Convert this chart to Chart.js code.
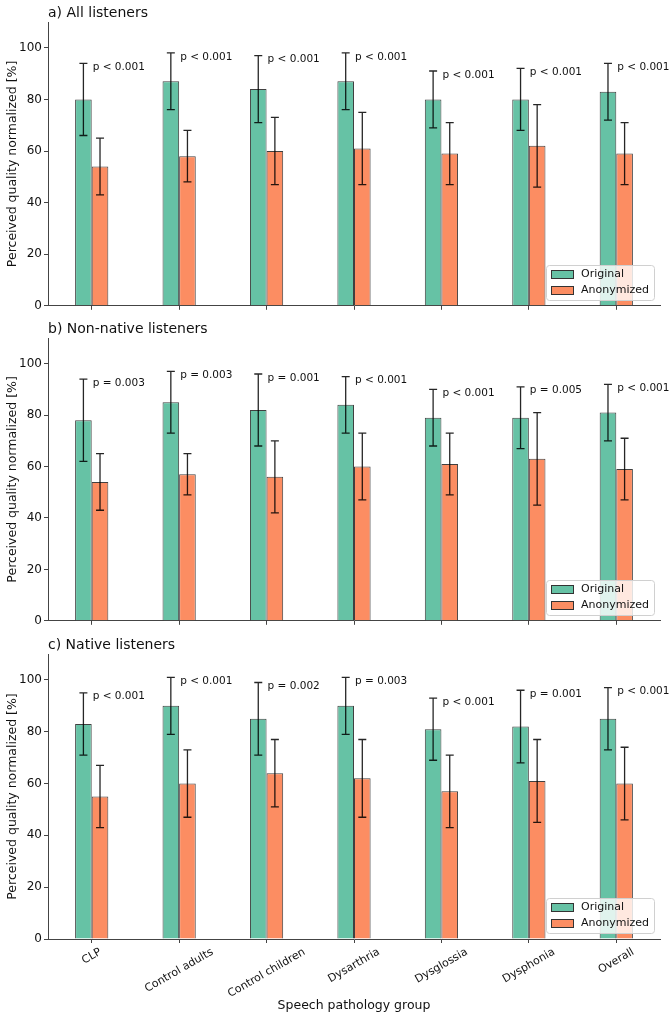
<!DOCTYPE html>
<html>
<head>
<meta charset="utf-8">
<script src="https://cdn.jsdelivr.net/npm/chart.js@4.4.0/dist/chart.umd.min.js"></script>
<style>
  html, body { margin: 0; padding: 0; background: #fff; }
  #wrap { position: relative; width: 672px; height: 1020px; }
  .panel { position: absolute; left: 0; width: 672px; }
</style>
</head>
<body>
<div id="wrap">
  <div class="panel" style="top:0;height:315px"><canvas id="chartA"></canvas></div>
  <div class="panel" style="top:315px;height:315px"><canvas id="chartB"></canvas></div>
  <div class="panel" style="top:630px;height:390px"><canvas id="chartC"></canvas></div>
</div>
<script>
const groups = ['CLP', 'Control adults', 'Control children', 'Dysarthria', 'Dysglossia', 'Dysphonia', 'Overall'];
const yTicks = [0, 20, 40, 60, 80, 100];

// a) all listeners
const allOrig = [80, 87, 84, 87, 80, 80, 83];
const allOrigSd = [14, 11, 13, 11, 11, 12, 11];
const allAnon = [54, 58, 60, 61, 59, 62, 59];
const allAnonSd = [11, 10, 13, 14, 12, 16, 12];
const allP = ['p < 0.001', 'p < 0.001', 'p < 0.001', 'p < 0.001', 'p < 0.001', 'p < 0.001', 'p < 0.001'];

// b) non-native listeners
const nonNativeOrig = [78, 85, 82, 84, 79, 79, 81];
const nonNativeOrigSd = [16, 12, 14, 11, 11, 12, 11];
const nonNativeAnon = [54, 57, 56, 60, 61, 63, 59];
const nonNativeAnonSd = [11, 8, 14, 13, 12, 18, 12];
const nonNativeP = ['p = 0.003', 'p = 0.003', 'p = 0.001', 'p < 0.001', 'p < 0.001', 'p = 0.005', 'p < 0.001'];

// c) native listeners
const nativeOrig = [83, 90, 85, 90, 81, 82, 85];
const nativeOrigSd = [12, 11, 14, 11, 12, 14, 12];
const nativeAnon = [55, 60, 64, 62, 57, 61, 60];
const nativeAnonSd = [12, 13, 13, 15, 14, 16, 14];
const nativeP = ['p < 0.001', 'p < 0.001', 'p = 0.002', 'p = 0.003', 'p < 0.001', 'p = 0.001', 'p < 0.001'];

const FONT = '"DejaVu Sans", sans-serif';
const GREEN = '#66c2a5';
const ORANGE = '#fc8d62';

function makePanel(id, title, orig, origSd, anon, anonSd, pLabels, padTop, xHeight, showXLabels) {
  const errs = [origSd, anonSd];

  const decor = {
    id: 'decor',
    afterDatasetsDraw(chart) {
      const ctx = chart.ctx;
      const xs = chart.scales.x;
      const ys = chart.scales.y;
      const ca = chart.chartArea;
      ctx.save();

      // error bars
      ctx.strokeStyle = 'rgba(0,0,0,0.85)';
      ctx.lineWidth = 1.3;
      chart.data.datasets.forEach((ds, di) => {
        chart.getDatasetMeta(di).data.forEach((bar, i) => {
          const hi = ys.getPixelForValue(ds.data[i] + errs[di][i]);
          const lo = ys.getPixelForValue(ds.data[i] - errs[di][i]);
          ctx.beginPath();
          ctx.moveTo(bar.x, hi); ctx.lineTo(bar.x, lo);
          ctx.moveTo(bar.x - 4, hi); ctx.lineTo(bar.x + 4, hi);
          ctx.moveTo(bar.x - 4, lo); ctx.lineTo(bar.x + 4, lo);
          ctx.stroke();
        });
      });

      // p-values next to the original bars
      ctx.fillStyle = '#111';
      ctx.font = '10.5px ' + FONT;
      ctx.textAlign = 'left';
      ctx.textBaseline = 'middle';
      pLabels.forEach((p, i) => {
        ctx.fillText(p, xs.getPixelForValue(i) + 1, ys.getPixelForValue(orig[i] + origSd[i] - 1.5));
      });

      // legend, lower right inside the axes
      const bw = 108, bh = 35;
      const bx = Math.round(ca.right - 6 - bw), by = Math.round(ca.bottom - 6 - bh);
      ctx.fillStyle = 'rgba(255,255,255,0.8)';
      ctx.strokeStyle = '#d0d0d0';
      ctx.lineWidth = 1;
      ctx.beginPath();
      ctx.roundRect(bx + 0.5, by + 0.5, bw, bh, 3);
      ctx.fill();
      ctx.stroke();
      ctx.font = '11px ' + FONT;
      chart.data.datasets.forEach((ds, di) => {
        const cy = by + 9 + di * 16;
        ctx.fillStyle = ds.backgroundColor;
        ctx.fillRect(bx + 5, cy - 4, 22, 8);
        ctx.strokeStyle = '#333';
        ctx.strokeRect(bx + 5.5, cy - 3.5, 22, 8);
        ctx.fillStyle = '#111';
        ctx.fillText(ds.label, bx + 35, cy + 0.5);
      });

      // panel title
      ctx.font = '14px ' + FONT;
      ctx.textBaseline = 'alphabetic';
      ctx.fillText(title, ca.left, ca.top - 5);

      // y axis title
      ctx.save();
      ctx.translate(12.5, (ca.top + ca.bottom) / 2);
      ctx.rotate(-Math.PI / 2);
      ctx.textAlign = 'center';
      ctx.textBaseline = 'middle';
      ctx.font = '12.5px ' + FONT;
      ctx.fillText('Perceived quality normalized [%]', 0, 0);
      ctx.restore();

      // rotated category labels and x title on the bottom panel
      if (showXLabels) {
        ctx.font = '11px ' + FONT;
        ctx.textAlign = 'center';
        ctx.textBaseline = 'middle';
        const h = 12;
        groups.forEach((g, i) => {
          const w = ctx.measureText(g).width;
          const tx = xs.getPixelForValue(i);
          const ty = ca.bottom + 7 + (w * 0.5 + h * 0.866) / 2;
          ctx.save();
          ctx.translate(tx, ty);
          ctx.rotate(-Math.PI / 6);
          ctx.fillText(g, 0, 0);
          ctx.restore();
        });
        ctx.font = '12.5px ' + FONT;
        ctx.fillText('Speech pathology group', (ca.left + ca.right) / 2, ca.bottom + 67);
      }
      ctx.restore();
    }
  };

  return new Chart(document.getElementById(id).getContext('2d'), {
    type: 'bar',
    data: {
      labels: groups,
      datasets: [{
        label: 'Original',
        data: orig,
        backgroundColor: GREEN,
        borderColor: 'rgba(0,0,0,0.75)',
        borderWidth: 1,
        categoryPercentage: 0.38,
        barPercentage: 1
      }, {
        label: 'Anonymized',
        data: anon,
        backgroundColor: ORANGE,
        borderColor: 'rgba(0,0,0,0.75)',
        borderWidth: 1,
        categoryPercentage: 0.38,
        barPercentage: 1
      }]
    },
    options: {
      responsive: true,
      maintainAspectRatio: false,
      animation: false,
      layout: { padding: { top: padTop, right: 12, left: 0, bottom: 0 } },
      plugins: { legend: { display: false }, tooltip: { enabled: false } },
      scales: {
        x: {
          offset: true,
          grid: { display: true, offset: false, drawOnChartArea: false, drawTicks: true, tickLength: 4, color: '#444' },
          border: { display: true, color: '#444', width: 1 },
          ticks: { display: false },
          afterFit: s => { s.height = xHeight; }
        },
        y: {
          min: 0,
          max: 110,
          afterBuildTicks: s => { s.ticks = yTicks.map(v => ({ value: v })); },
          grid: { display: true, drawOnChartArea: false, drawTicks: true, tickLength: 4, color: '#444' },
          border: { display: true, color: '#444', width: 1 },
          ticks: { color: '#111', padding: 2, font: { family: 'DejaVu Sans', size: 12 } },
          afterFit: s => { s.width = 48; }
        }
      }
    },
    plugins: [decor]
  });
}

makePanel('chartA', 'a) All listeners', allOrig, allOrigSd, allAnon, allAnonSd, allP, 22, 8, false);
makePanel('chartB', 'b) Non-native listeners', nonNativeOrig, nonNativeOrigSd, nonNativeAnon, nonNativeAnonSd, nonNativeP, 23, 8, false);
makePanel('chartC', 'c) Native listeners', nativeOrig, nativeOrigSd, nativeAnon, nativeAnonSd, nativeP, 24, 81, true);
</script>
</body>
</html>
